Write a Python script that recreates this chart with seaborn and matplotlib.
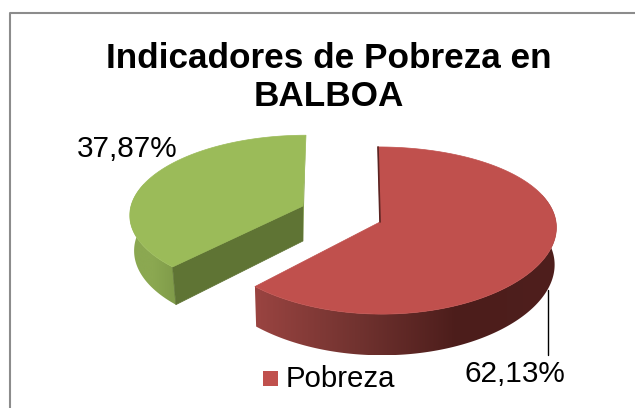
import numpy as np
import matplotlib
matplotlib.use('Agg')
import matplotlib.pyplot as plt
from matplotlib.colors import LinearSegmentedColormap
from matplotlib.legend_handler import HandlerPatch
from matplotlib.patches import Patch, Polygon, Rectangle
import seaborn as sns

# values
categories = ['Pobreza', 'Resto']
values = [62.13, 37.87]
value_labels = ['62,13%', '37,87%']
title_lines = ['Indicadores de Pobreza en', 'BALBOA']

sns.set_theme(style='white')
plt.rcParams['font.family'] = ['Liberation Sans', 'DejaVu Sans']

colors = sns.color_palette(['#c0504d', '#9bbb59'])
PERSP = 0.102

W, H = 635, 408
fig = plt.figure(figsize=(W / 100, H / 100), dpi=100)
ax = fig.add_axes([0, 0, 1, 1])


def rim(theta, g, drop=0):
    # perspective ellipse, pie angle clockwise from the top
    ex, ey = np.sin(theta), -np.cos(theta)
    s = 1 / (1 - PERSP * ey)
    sx = 1 / (1 - g['kx'] * ey)
    shrink = g['shrink'] if drop else 1
    x = g['cx'] + (g['rx'] * ex * sx + g['shear'] * ey) * shrink
    y = g['cy'] + g['ry'] * ey * s + drop * s
    return np.column_stack([x, y])


def draw_side(g, a, b, cmap):
    th = np.linspace(a, b, 200)
    pts = np.vstack([rim(th, g), rim(th, g, g['depth'])[::-1]])
    poly = Polygon(pts, closed=True, fc='none', ec='none')
    ax.add_patch(poly)
    x0, x1 = pts[:, 0].min(), pts[:, 0].max()
    y0, y1 = pts[:, 1].min(), pts[:, 1].max()
    grad = np.linspace(0, 1, 256).reshape(1, -1)
    im = ax.imshow(grad, cmap=cmap, extent=[x0, x1, y1, y0], aspect='auto', zorder=1)
    im.set_clip_path(poly)


def draw_top(g, a, b, color):
    th = np.linspace(a, b, 300)
    pts = np.vstack([[g['cx'], g['cy']], rim(th, g)])
    ax.add_patch(Polygon(pts, closed=True, fc=color, ec=color, lw=0.5, zorder=3))


def square_handle(legend, orig_handle, xdescent, ydescent, width, height, fontsize):
    return Rectangle((0, 0.7), 10.8, 10.8)


# slice angles come from the values
fracs = np.array(values) / sum(values)
edges = np.concatenate([[0], np.cumsum(fracs)]) * 2 * np.pi

red = dict(cx=380, cy=222, rx=176, ry=82.7, depth=37, shear=2, kx=0.055, shrink=0.99)
green = dict(cx=303, cy=206, rx=172, ry=78, depth=35, shear=-3, kx=0.102, shrink=0.975)

# green slice
cmap_green = LinearSegmentedColormap.from_list('g', ['#8ba851', '#8ba851', '#7f9a49'])
draw_side(green, edges[1], np.radians(287), cmap_green)
corner = rim(np.array([edges[1]]), green)[0]
corner_low = rim(np.array([edges[1]]), green, green['depth'])[0]
apex = np.array([green['cx'], green['cy']])
apex_low = apex + [0, green['depth']]
ax.add_patch(Polygon([apex, corner, corner_low, apex_low], closed=True,
                     fc='#5f7434', ec='#5f7434', lw=0.5, zorder=2))
top_pt = rim(np.array([edges[2]]), green)[0]
ax.add_patch(Polygon([top_pt, apex, apex_low], closed=True,
                     fc='#7f9a49', ec='none', zorder=2))
draw_top(green, edges[1], edges[2], colors[1])

# red slice
cmap_red = LinearSegmentedColormap.from_list(
    'r', [(0, '#9a4441'), (0.33, '#723330'), (0.67, '#4c1d1b'), (1, '#4f1f1d')])
draw_side(red, np.radians(70), edges[1], cmap_red)
draw_top(red, edges[0], edges[1], colors[0])
red_top = rim(np.array([edges[0]]), red)[0]
ax.plot([red_top[0], red['cx']], [red_top[1], red['cy']], color='#5a2422', lw=1.2, zorder=4)

# leader line and value labels
ax.plot([548, 548], [290, 355], color='black', lw=1, zorder=5)
ax.text(515, 382, value_labels[0], fontsize=21.4, color='black', ha='center', va='baseline')
ax.text(127, 157, value_labels[1], fontsize=21.4, color='black', ha='center', va='baseline')

ax.text(329, 68, title_lines[0], fontsize=25.3, fontweight='bold', color='black',
        ha='center', va='baseline')
ax.text(329, 106, title_lines[1], fontsize=25.3, fontweight='bold', color='black',
        ha='center', va='baseline')

handles = [Patch(facecolor=colors[0], edgecolor='none', label=categories[0])]
ax.legend(handles=handles, loc='center', bbox_to_anchor=(329 / W, 1 - 379 / H), frameon=False,
          fontsize=21.2, handlelength=0.51, handleheight=0.45, handletextpad=0.27,
          labelcolor='black', borderpad=0, borderaxespad=0,
          handler_map={Patch: HandlerPatch(patch_func=square_handle)})

# chart frame, only top and left show in the crop
ax.plot([10, 10, W], [H, 12.5, 12.5], color='#8c8c8c', lw=1.5, zorder=0)

ax.set_xlim(0, W)
ax.set_ylim(H, 0)
ax.axis('off')
fig.savefig('out.png', dpi=100)
